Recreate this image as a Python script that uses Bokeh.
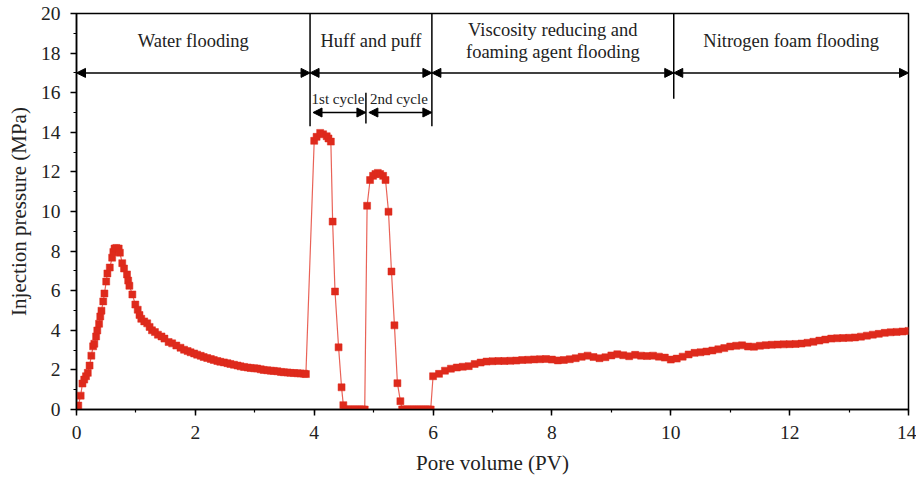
from bokeh.plotting import figure
from bokeh.models import (Range1d, SingleIntervalTicker, Arrow, NormalHead,
                          ColumnDataSource, Label)
from bokeh.embed import file_html
from bokeh.resources import INLINE

# ---------------- data ----------------
water_pv = [0.03, 0.07, 0.10, 0.13, 0.16, 0.19, 0.22, 0.25, 0.28, 0.30, 0.33, 0.35,
            0.38, 0.40, 0.42, 0.45, 0.47, 0.50, 0.52, 0.56, 0.60, 0.62, 0.64, 0.67,
            0.71, 0.73, 0.77, 0.80, 0.85, 0.87, 0.89, 0.94, 0.99, 1.03, 1.06, 1.09,
            1.14, 1.19, 1.23, 1.27, 1.32, 1.37, 1.43, 1.48, 1.55, 1.61, 1.68, 1.75,
            1.81, 1.87, 1.92, 1.98, 2.03, 2.09, 2.14, 2.20, 2.26, 2.31, 2.37, 2.42,
            2.48, 2.54, 2.59, 2.65, 2.71, 2.76, 2.82, 2.88, 2.93, 2.99, 3.04, 3.10,
            3.15, 3.21, 3.27, 3.32, 3.38, 3.44, 3.49, 3.55, 3.60, 3.66, 3.72, 3.77,
            3.83, 3.86]
water_p = [0.20, 0.70, 1.31, 1.51, 1.68, 1.85, 2.22, 2.72, 3.19, 3.32, 3.69, 3.99,
           4.33, 4.70, 4.99, 5.46, 5.86, 6.46, 6.87, 7.17, 7.67, 7.96, 8.13, 8.16,
           8.13, 7.92, 7.39, 7.12, 6.82, 6.51, 6.25, 5.81, 5.30, 5.04, 4.77, 4.58,
           4.45, 4.35, 4.17, 4.00, 3.91, 3.78, 3.69, 3.58, 3.41, 3.34, 3.23, 3.12,
           3.02, 2.95, 2.89, 2.83, 2.77, 2.71, 2.65, 2.60, 2.55, 2.50, 2.45, 2.41,
           2.38, 2.34, 2.30, 2.26, 2.22, 2.18, 2.15, 2.12, 2.10, 2.08, 2.07, 2.03,
           2.00, 1.98, 1.96, 1.95, 1.93, 1.90, 1.88, 1.87, 1.85, 1.84, 1.83, 1.82,
           1.81, 1.79]

huff_pv = [4.00, 4.04, 4.10, 4.15, 4.21, 4.24, 4.28, 4.31, 4.35, 4.41, 4.46, 4.49,
           4.52, 4.55, 4.58, 4.61, 4.64, 4.67, 4.70, 4.73, 4.76, 4.79, 4.82, 4.85,
           4.89, 4.94, 4.99, 5.03, 5.07, 5.11, 5.16, 5.20, 5.25, 5.30, 5.35, 5.40,
           5.45, 5.48, 5.51, 5.54, 5.57, 5.60, 5.63, 5.66, 5.69, 5.72, 5.75, 5.78,
           5.81, 5.84, 5.87, 5.90, 5.93, 5.96]
huff_p = [13.57, 13.77, 13.97, 13.90, 13.80, 13.69, 13.53, 9.49, 5.96, 3.14, 1.12, 0.22,
          0.0, 0.0, 0.0, 0.0, 0.0, 0.0, 0.0, 0.0, 0.0, 0.0, 0.0, 0.0,
          10.29, 11.59, 11.80, 11.89, 11.95, 11.89, 11.80, 11.59, 9.99, 6.97, 4.25, 1.33,
          0.42, 0.0, 0.0, 0.0, 0.0, 0.0, 0.0, 0.0, 0.0, 0.0, 0.0, 0.0,
          0.0, 0.0, 0.0, 0.0, 0.0, 0.0]

foam_pv = [6.0, 6.1, 6.2, 6.3, 6.4, 6.5, 6.6, 6.7, 6.8, 6.9, 7.0, 7.1, 7.2, 7.3, 7.4,
           7.5, 7.6, 7.7, 7.8, 7.9, 8.0, 8.1, 8.2, 8.3, 8.4, 8.5, 8.6, 8.7, 8.8, 8.9,
           9.0, 9.1, 9.2, 9.3, 9.4, 9.5, 9.6, 9.7, 9.8, 9.9, 10.0, 10.1, 10.2, 10.3,
           10.4, 10.5, 10.6, 10.7, 10.8, 10.9, 11.0, 11.1, 11.2, 11.3, 11.4, 11.5,
           11.6, 11.7, 11.8, 11.9, 12.0, 12.1, 12.2, 12.3, 12.4, 12.5, 12.6, 12.7,
           12.8, 12.9, 13.0, 13.1, 13.2, 13.3, 13.4, 13.5, 13.6, 13.7, 13.8, 13.9, 14.0]
foam_p = [1.68, 1.80, 1.96, 2.06, 2.12, 2.16, 2.19, 2.30, 2.37, 2.42, 2.44, 2.45, 2.45,
          2.46, 2.47, 2.50, 2.51, 2.53, 2.54, 2.55, 2.52, 2.48, 2.50, 2.54, 2.59, 2.66,
          2.72, 2.65, 2.59, 2.64, 2.73, 2.79, 2.74, 2.69, 2.76, 2.72, 2.70, 2.72, 2.67,
          2.62, 2.52, 2.57, 2.67, 2.78, 2.86, 2.89, 2.93, 2.98, 3.04, 3.10, 3.18, 3.22,
          3.24, 3.18, 3.17, 3.22, 3.25, 3.27, 3.28, 3.29, 3.30, 3.31, 3.33, 3.37, 3.42,
          3.48, 3.53, 3.58, 3.60, 3.61, 3.62, 3.64, 3.68, 3.73, 3.78, 3.82, 3.87, 3.90,
          3.92, 3.94, 3.97]

# stage annotation data
stage_bounds = [0.0, 3.93, 5.98, 10.05, 14.0]
stage_arrow_y = 17.0
cycle_bounds = [3.93, 4.87, 5.98]
cycle_arrow_y = 15.0
stage_names = ["Water flooding", "Huff and puff", "Viscosity reducing and\nfoaming agent flooding",
               "Nitrogen foam flooding"]
cycle_names = ["1st cycle", "2nd cycle"]

x_ticks = [0, 2, 4, 6, 8, 10, 12, 14]
y_ticks = [0, 2, 4, 6, 8, 10, 12, 14, 16, 18, 20]

# ---------------- figure ----------------
FONT = "Liberation Serif"
RED = "#de2a1c"

p = figure(width=916, height=477, output_backend="svg", toolbar_location=None,
           x_range=Range1d(0, 14), y_range=Range1d(0, 20),
           min_border_left=76, min_border_right=8, min_border_top=13, min_border_bottom=67,
           x_axis_label="Pore volume (PV)", y_axis_label="Injection pressure (MPa)")
p.grid.visible = False
p.outline_line_color = "black"
p.outline_line_width = 1.5
p.outline_line_alpha = 1.0

for ax in (p.xaxis[0], p.yaxis[0]):
    ax.ticker = SingleIntervalTicker(interval=2, num_minor_ticks=2)
    ax.axis_line_width = 1.5
    ax.major_tick_line_width = 1.5
    ax.minor_tick_line_width = 1.2
    ax.major_tick_out = 6
    ax.major_tick_in = 0
    ax.minor_tick_out = 3
    ax.minor_tick_in = 0
    ax.major_label_text_font = FONT
    ax.major_label_text_font_size = "19.5px"
    ax.major_label_text_color = "#222222"
    ax.axis_label_text_font = FONT
    ax.axis_label_text_font_size = "21px"
    ax.axis_label_text_font_style = "normal"
    ax.axis_label_text_color = "#222222"
p.xaxis.major_label_standoff = 10
p.yaxis.major_label_standoff = 10
p.xaxis.axis_label_standoff = 9
p.yaxis.axis_label_standoff = 7

pv = water_pv + huff_pv + foam_pv
pres = water_p + huff_p + foam_p
src = ColumnDataSource(dict(x=pv, y=pres))
p.line("x", "y", source=src, line_color="#e5473a", line_width=1.2, line_alpha=0.85)
p.scatter("x", "y", source=src, marker="square", size=7, fill_color=RED,
          line_color=RED, line_width=0.5)

# stage boundary vertical lines
p.segment(x0=[stage_bounds[1], stage_bounds[2], stage_bounds[3], cycle_bounds[1]],
          y0=[14.3, 14.3, 15.7, 14.45],
          x1=[stage_bounds[1], stage_bounds[2], stage_bounds[3], cycle_bounds[1]],
          y1=[20, 20, 20, 16.0],
          line_color="black", line_width=1.5)

def dbl_arrow(xa, xb, y):
    p.add_layout(Arrow(start=NormalHead(size=9, fill_color="black", line_color="black"),
                       end=NormalHead(size=9, fill_color="black", line_color="black"),
                       x_start=xa, x_end=xb, y_start=y, y_end=y,
                       line_color="black", line_width=1.5))

for a, b in zip(stage_bounds[:-1], stage_bounds[1:]):
    dbl_arrow(a, b, stage_arrow_y)
for a, b in zip(cycle_bounds[:-1], cycle_bounds[1:]):
    dbl_arrow(a + 0.05, b, cycle_arrow_y)

for i, name in enumerate(stage_names):
    cx = (stage_bounds[i] + stage_bounds[i + 1]) / 2
    p.add_layout(Label(x=cx, y=18.6, text=name, text_align="center",
                       text_baseline="middle", text_font=FONT, text_font_size="18.5px",
                       text_color="#222222", text_line_height=1.12))

for i, name in enumerate(cycle_names):
    cx = (cycle_bounds[i] + cycle_bounds[i + 1]) / 2
    p.add_layout(Label(x=cx, y=15.67, text=name, text_align="center",
                       text_baseline="middle", text_font=FONT, text_font_size="15px",
                       text_color="#222222"))

open("out.html", "w").write(file_html(p, INLINE))
